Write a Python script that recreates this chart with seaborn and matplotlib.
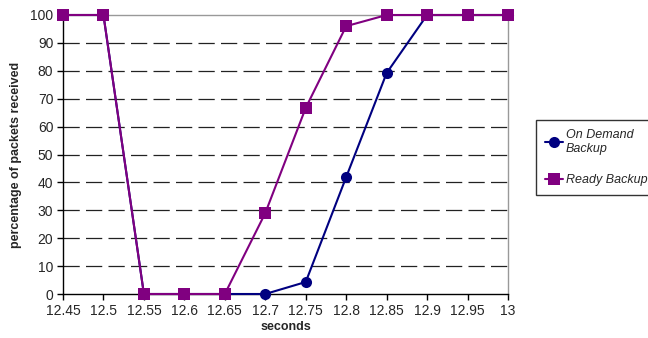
import matplotlib
matplotlib.use("Agg")
import matplotlib.pyplot as plt
import seaborn as sns
import pandas as pd

seconds = [12.45, 12.5, 12.55, 12.6, 12.65, 12.7, 12.75, 12.8, 12.85, 12.9, 12.95, 13.0]
on_demand = [100, 100, 0, 0, 0, 0, 4.3, 41.9, 79.2, 100, 100, 100]
ready = [100, 100, 0, 0, 0, 29, 66.7, 96, 100, 100, 100, 100]
x_ticks = [12.45, 12.5, 12.55, 12.6, 12.65, 12.7, 12.75, 12.8, 12.85, 12.9, 12.95, 13.0]
x_labels = ["12.45", "12.5", "12.55", "12.6", "12.65", "12.7", "12.75", "12.8", "12.85", "12.9", "12.95", "13"]
y_ticks = list(range(0, 101, 10))

sns.set_style("white")
plt.rcParams["font.family"] = ["Liberation Sans", "DejaVu Sans"]

fig = plt.figure(figsize=(6.48, 3.38), dpi=100)
ax = fig.add_axes([63 / 648, 44 / 338, 445 / 648, 279 / 338])

for y in y_ticks[1:-1]:
    ax.axhline(y, color="#222222", lw=0.9, dashes=(13, 5), zorder=0)

df_od = pd.DataFrame({"x": seconds, "y": on_demand})
df_rb = pd.DataFrame({"x": seconds, "y": ready})
sns.lineplot(data=df_od, x="x", y="y", ax=ax, color="#000080", marker="o",
             markersize=8, markeredgewidth=0, lw=1.5, label="On Demand\nBackup", zorder=3)
sns.lineplot(data=df_rb, x="x", y="y", ax=ax, color="#800080", marker="s",
             markersize=8, markeredgewidth=0, lw=1.5, label="Ready Backup", zorder=4)

ax.set_xlim(12.45, 13.0)
ax.set_ylim(0, 100)
ax.set_xticks(x_ticks)
ax.set_xticklabels(x_labels)
ax.set_yticks(y_ticks)
ax.tick_params(axis="both", direction="out", length=4, width=1, color="#000000",
               labelsize=10, pad=3, bottom=True, left=True)
for s in ["left", "bottom"]:
    ax.spines[s].set_color("#000000")
    ax.spines[s].set_linewidth(1)
for s in ["top", "right"]:
    ax.spines[s].set_color("#999999")
    ax.spines[s].set_linewidth(1)
for m in ax.lines[-2:]:
    m.set_clip_on(False)

ax.set_xlabel("seconds", fontsize=9, fontweight="bold", labelpad=2)
ax.set_ylabel("percentage of packets received", fontsize=9, fontweight="bold", labelpad=6)

leg = ax.legend(loc="upper left", bbox_to_anchor=(536 / 648, 1 - 120 / 338),
                bbox_transform=fig.transFigure, frameon=True, fancybox=False,
                edgecolor="#000000", prop={"style": "italic", "size": 9},
                handlelength=1.4, handletextpad=0.25, borderpad=0.75, labelspacing=1.5,
                borderaxespad=0)
leg.get_frame().set_linewidth(1)

fig.savefig("out.png", dpi=100)
